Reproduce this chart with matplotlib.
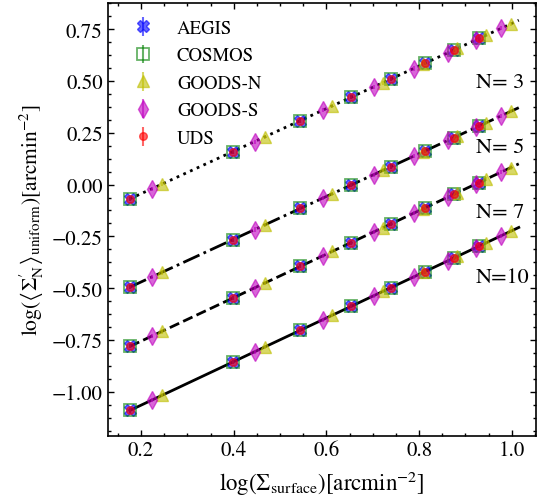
import matplotlib
matplotlib.use("Agg")
import matplotlib.pyplot as plt
from matplotlib.ticker import MultipleLocator

plt.rcParams["font.family"] = ["STIXGeneral", "DejaVu Serif"]
plt.rcParams["mathtext.fontset"] = "stix"

# x positions (log surface density)
x_main = [0.176, 0.398, 0.544, 0.653, 0.740, 0.813, 0.875, 0.929]
x_goods_s = [0.223, 0.445, 0.592, 0.702, 0.788, 0.862, 0.923, 0.977]
x_goods_n = [0.245, 0.467, 0.613, 0.722, 0.809, 0.882, 0.944, 0.998]

# y values per neighbour number
y_main = {
    3: [-0.069, 0.159, 0.309, 0.421, 0.511, 0.586, 0.650, 0.705],
    5: [-0.495, -0.266, -0.115, -0.002, 0.087, 0.163, 0.227, 0.283],
    7: [-0.781, -0.548, -0.395, -0.280, -0.189, -0.112, -0.047, 0.009],
    10: [-1.090, -0.856, -0.703, -0.588, -0.497, -0.420, -0.355, -0.298],
}
y_goods_s = {
    3: [-0.021, 0.207, 0.359, 0.472, 0.560, 0.636, 0.699, 0.754],
    5: [-0.447, -0.217, -0.065, 0.048, 0.137, 0.213, 0.276, 0.332],
    7: [-0.732, -0.499, -0.344, -0.229, -0.139, -0.061, 0.003, 0.060],
    10: [-1.040, -0.807, -0.652, -0.536, -0.446, -0.368, -0.304, -0.247],
}
y_goods_n = {
    3: [0.002, 0.230, 0.380, 0.492, 0.582, 0.657, 0.720, 0.776],
    5: [-0.424, -0.195, -0.044, 0.069, 0.159, 0.234, 0.298, 0.354],
    7: [-0.709, -0.476, -0.322, -0.208, -0.117, -0.040, 0.025, 0.082],
    10: [-1.017, -0.784, -0.630, -0.515, -0.424, -0.347, -0.282, -0.225],
}
y_err = [0.01, 0.01, 0.01, 0.01, 0.01, 0.01, 0.01, 0.01]

# fitted relations, endpoints
line_x = [0.176, 1.015]
line_y = {
    3: [-0.069, 0.793],
    5: [-0.495, 0.371],
    7: [-0.781, 0.100],
    10: [-1.090, -0.207],
}
line_styles = {3: ":", 5: "-.", 7: "--", 10: "-"}
n_labels = {3: ("N= 3", 0.494), 5: ("N= 5", 0.181), 7: ("N= 7", -0.133), 10: ("N=10", -0.446)}

fig = plt.figure(figsize=(5.38, 5.02), dpi=100)
ax = fig.add_axes([0.200, 0.130, 0.797, 0.862])

for n in (3, 5, 7, 10):
    ax.plot(line_x, line_y[n], color="k", ls=line_styles[n], lw=2, zorder=1)

surveys = [
    ("AEGIS", x_main, y_main, dict(fmt="X", color="b", ms=9, alpha=0.6)),
    ("COSMOS", x_main, y_main, dict(fmt="s", color="g", mfc="none", mew=1.3, ms=8, alpha=0.6)),
    ("GOODS-N", x_goods_n, y_goods_n, dict(fmt="^", color="y", ms=8.5, alpha=0.6)),
    ("GOODS-S", x_goods_s, y_goods_s, dict(fmt="d", color="m", ms=9, alpha=0.6)),
    ("UDS", x_main, y_main, dict(fmt="o", color="r", ms=5.5, alpha=0.6)),
]
for name, xs, ys, kw in surveys:
    for i, n in enumerate((3, 5, 7, 10)):
        ax.errorbar(xs, ys[n], yerr=y_err, label=name if i == 0 else None,
                    elinewidth=1.5, capsize=0, zorder=3, **kw)

for n, (txt, yy) in n_labels.items():
    ax.text(0.923, yy, txt, fontsize=16, va="center", ha="left")

ax.set_xlim(0.128, 1.053)
ax.set_ylim(-1.212, 0.876)
ax.xaxis.set_major_locator(MultipleLocator(0.2))
ax.xaxis.set_minor_locator(MultipleLocator(0.05))
ax.yaxis.set_major_locator(MultipleLocator(0.25))
ax.yaxis.set_minor_locator(MultipleLocator(0.0625))
ax.tick_params(which="both", direction="in", top=True, right=True, labelsize=15)
ax.tick_params(which="major", length=4.5, width=1)
ax.tick_params(which="minor", length=2.5, width=1)
for s in ax.spines.values():
    s.set_linewidth(1.2)

ax.set_xlabel(r"$\log(\Sigma_{\rm surface})[{\rm arcmin}^{-2}]$", fontsize=16.5, labelpad=6)
ax.set_ylabel(r"$\log(\left\langle\Sigma^{\prime}_{\rm N}\right\rangle_{\rm uniform})[{\rm arcmin}^{-2}]$",
              fontsize=15.5)

ax.legend(loc="upper left", frameon=False, fontsize=13.5, handletextpad=0.8,
          borderaxespad=0.5, labelspacing=0.55)

fig.savefig("out.png", dpi=100)
